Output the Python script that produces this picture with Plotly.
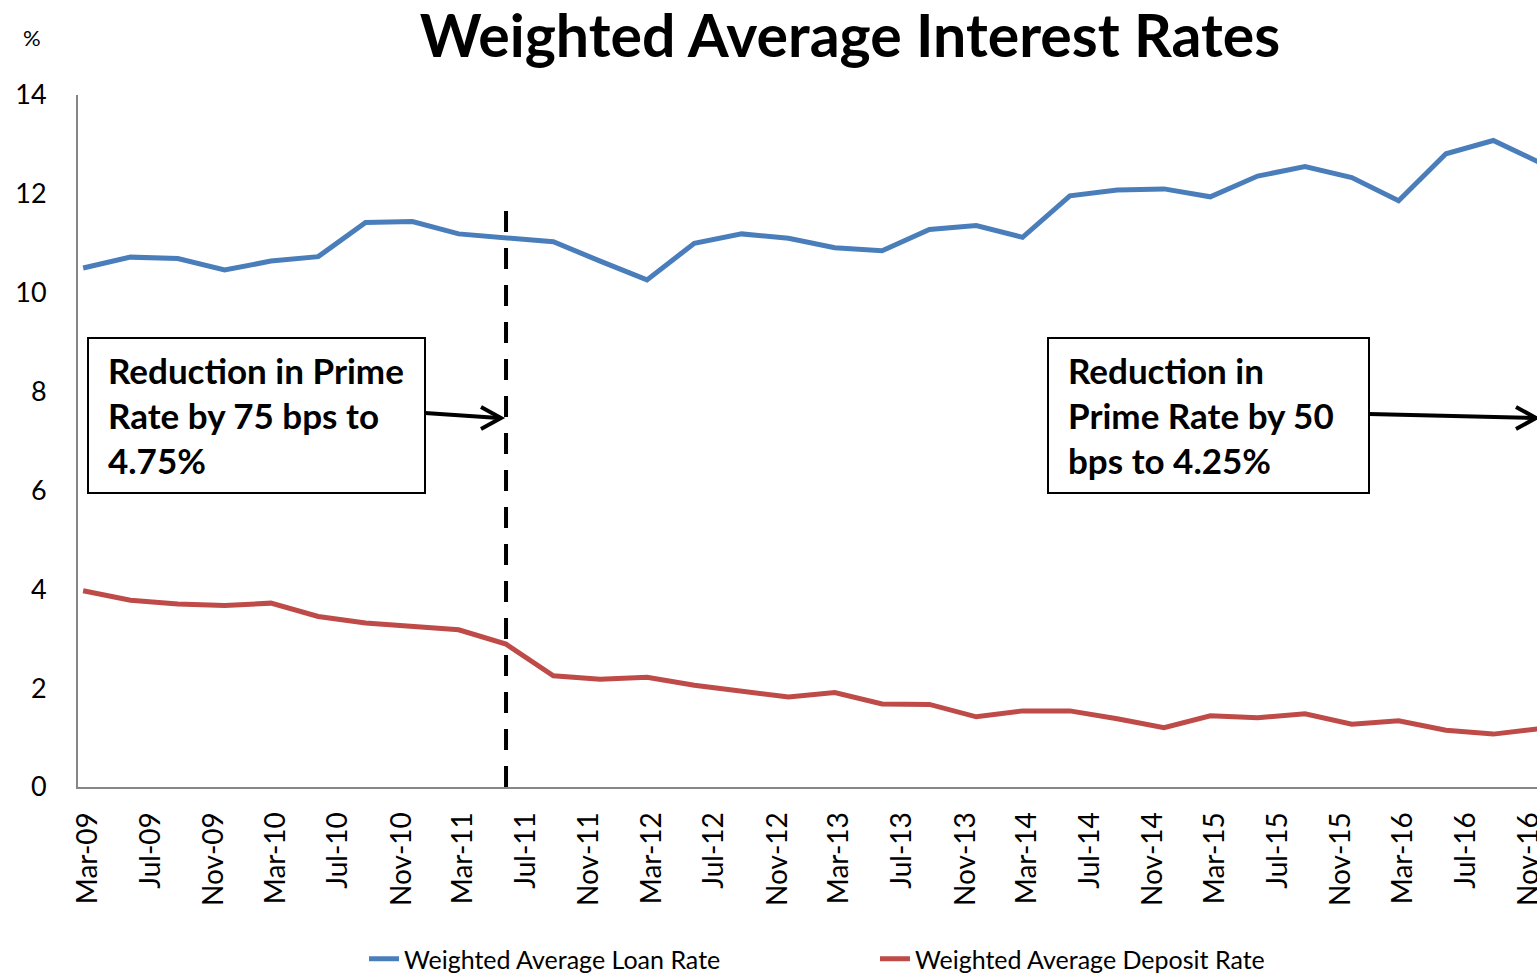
import plotly.graph_objects as go

# ---------------- data ----------------
dates = [
    "2009-03-01", "2009-06-01", "2009-09-01", "2009-12-01",
    "2010-03-01", "2010-06-01", "2010-09-01", "2010-12-01",
    "2011-03-01", "2011-06-01", "2011-09-01", "2011-12-01",
    "2012-03-01", "2012-06-01", "2012-09-01", "2012-12-01",
    "2013-03-01", "2013-06-01", "2013-09-01", "2013-12-01",
    "2014-03-01", "2014-06-01", "2014-09-01", "2014-12-01",
    "2015-03-01", "2015-06-01", "2015-09-01", "2015-12-01",
    "2016-03-01", "2016-06-01", "2016-09-01", "2016-12-01",
]
loan_rate = [
    10.50, 10.72, 10.69, 10.46, 10.64, 10.73, 11.42, 11.44,
    11.19, 11.10, 11.03, 10.64, 10.26, 11.00, 11.19, 11.10,
    10.91, 10.85, 11.28, 11.36, 11.12, 11.96, 12.08, 12.10,
    11.94, 12.36, 12.55, 12.33, 11.86, 12.81, 13.08, 12.63,
]
deposit_rate = [
    3.97, 3.78, 3.70, 3.67, 3.72, 3.45, 3.32, 3.26,
    3.18, 2.89, 2.25, 2.18, 2.22, 2.06, 1.93, 1.82,
    1.91, 1.68, 1.67, 1.42, 1.54, 1.54, 1.38, 1.20,
    1.44, 1.40, 1.48, 1.27, 1.34, 1.15, 1.07, 1.18,
]
series_names = ["Weighted Average Loan Rate", "Weighted Average Deposit Rate"]
policy_date = "2011-06-01"
policy_line_top = 11.67
box1_lines = ["Reduction in Prime", "Rate by 75 bps to", "4.75%"]
box2_lines = ["Reduction in", "Prime Rate by 50", "bps to 4.25%"]

# ---------------- layout geometry ----------------
W, H = 1537, 976
L, R, T, B = 78, 0, 95, 189
PW, PH = W - L - R, H - T - B
FONT = "Lato, 'Open Sans', sans-serif"


def px(x):
    return (x - L) / PW


def py(y):
    return (H - B - y) / PH


fig = go.Figure()
fig.add_trace(go.Scatter(x=dates, y=loan_rate, mode="lines", name=series_names[0],
                         line=dict(color="#4A7EBB", width=5)))
fig.add_trace(go.Scatter(x=dates, y=deposit_rate, mode="lines", name=series_names[1],
                         line=dict(color="#BE4B48", width=5)))

shapes = []
# dashed policy line
shapes.append(dict(type="line", xref="x", yref="y", x0=policy_date, x1=policy_date,
                   y0=0, y1=policy_line_top, layer="above",
                   line=dict(color="black", width=4, dash="21px,16px")))

# boxes
for (x0, y0, x1, y1) in [(88, 338, 425, 493), (1048, 338, 1369, 493)]:
    shapes.append(dict(type="rect", xref="paper", yref="paper", x0=px(x0), x1=px(x1),
                       y0=py(y1), y1=py(y0), line=dict(color="black", width=2),
                       fillcolor="white", layer="above"))

# arrows (shaft + open chevron)
for (tx, ty, hx, hy) in [(425, 413, 501, 418), (1369, 414, 1536, 418)]:
    shapes.append(dict(type="line", xref="paper", yref="paper", x0=px(tx), y0=py(ty),
                       x1=px(hx - 2), y1=py(hy), line=dict(color="black", width=4)))
    path = "M {} {} L {} {} L {} {}".format(px(hx - 20), py(hy - 11), px(hx), py(hy),
                                            px(hx - 20), py(hy + 11))
    shapes.append(dict(type="path", xref="paper", yref="paper", path=path,
                       line=dict(color="black", width=4)))

annotations = []
for lines, x0 in [(box1_lines, 106), (box2_lines, 1066)]:
    for i, t in enumerate(lines):
        annotations.append(dict(text="<b>%s</b>" % t, xref="paper", yref="paper",
                                x=px(x0), y=py(370 + 45 * i), xanchor="left", yanchor="middle",
                                showarrow=False, font=dict(family=FONT, size=35, color="black")))
annotations.append(dict(text="%", xref="paper", yref="paper", x=px(32), y=py(37),
                        xanchor="center", yanchor="middle", showarrow=False,
                        font=dict(family=FONT, size=22, color="black")))

fig.update_layout(
    width=W, height=H,
    margin=dict(l=L, r=R, t=T, b=B, autoexpand=False),
    paper_bgcolor="white", plot_bgcolor="white",
    title=dict(text="<b>Weighted Average Interest Rates</b>", x=850 / W, xref="container",
               xanchor="center", y=1 - 36 / H, yanchor="middle",
               font=dict(family=FONT, size=59, color="black")),
    font=dict(family=FONT, color="black"),
    showlegend=True,
    legend=dict(orientation="h", x=px(364), xanchor="left", y=py(959), yanchor="middle",
                font=dict(family=FONT, size=25, color="black"), entrywidth=466,
                entrywidthmode="pixels", bgcolor="rgba(0,0,0,0)"),
    shapes=shapes,
    annotations=annotations,
)
fig.update_xaxes(type="date", range=["2009-02-19", "2016-11-25"], tick0="2009-03-10", dtick="M4",
                 tickformat="%b-%y", tickangle=-90, showgrid=False, zeroline=False,
                 showline=True, linecolor="#868686", linewidth=2, ticks="",
                 automargin=False, ticklabeloverflow="allow", ticklabelstandoff=12,
                 tickfont=dict(family=FONT, size=28, color="black"))
fig.update_yaxes(range=[0, 14], dtick=2, showgrid=False, zeroline=False, showline=True,
                 linecolor="#868686", linewidth=2, ticks="", ticklabelstandoff=24,
                 automargin=False, tickfont=dict(family=FONT, size=27, color="black"))

fig.write_html("out.html", config={"displayModeBar": False},
               post_script="document.body.style.margin='0';document.body.style.overflow='hidden';")
